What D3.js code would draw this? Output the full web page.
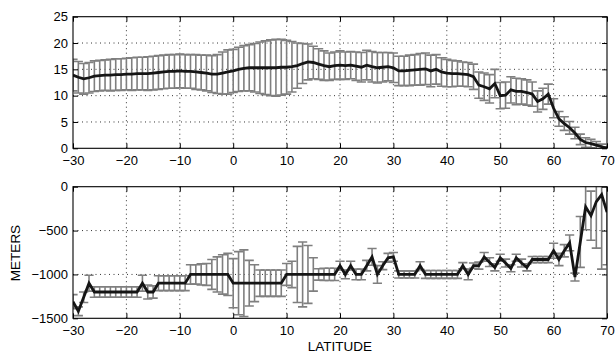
<!DOCTYPE html>
<html><head><meta charset="utf-8">
<script src="https://cdn.jsdelivr.net/npm/d3@7"></script>
<style>
body{margin:0;background:#fff}
text{font-family:"Liberation Sans",Arial,Helvetica,sans-serif}
</style></head>
<body><svg id="c" width="615" height="353"></svg>
<script>
const latitude = [-30,-29,-28,-27,-26,-25,-24,-23,-22,-21,-20,-19,-18,-17,-16,-15,-14,-13,-12,-11,
  -10,-9,-8,-7,-6,-5,-4,-3,-2,-1,0,1,2,3,4,5,6,7,8,9,10,11,12,13,14,15,16,17,18,19,
  20,21,22,23,24,25,26,27,28,29,30,31,32,33,34,35,36,37,38,39,40,41,42,43,44,45,46,47,48,49,
  50,51,52,53,54,55,56,57,58,59,60,61,62,63,64,65,66,67,68,69,70];

// top panel: mean and error half-width
const topMean = [13.9,13.5,13.2,13.4,13.7,13.8,13.9,13.9,14.0,14.0,14.1,14.1,14.2,14.2,14.2,14.3,14.4,14.5,14.6,14.6,
  14.7,14.6,14.6,14.5,14.4,14.3,14.1,14.1,14.3,14.5,14.7,15.0,15.2,15.3,15.3,15.3,15.3,15.3,15.3,15.4,
  15.4,15.5,15.7,16.1,16.4,16.3,16.0,15.7,15.5,15.7,15.8,15.7,15.8,15.6,15.4,15.8,15.5,15.3,15.4,15.5,
  15.3,14.7,14.7,14.8,14.9,15.0,15.1,14.7,15.0,14.5,14.3,14.2,14.2,14.1,14.0,13.6,12.0,11.7,11.3,12.3,
  10.0,10.1,11.1,10.8,10.8,10.6,10.3,8.9,9.4,10.3,7.6,5.6,4.7,3.9,2.9,1.7,1.1,0.9,0.6,0.3,0.0];
const topErr = [3.0,3.0,2.9,2.9,2.9,2.9,2.9,3.0,3.0,3.0,3.0,3.1,3.1,3.1,3.2,3.2,3.2,3.2,3.2,3.2,
  3.2,3.2,3.2,3.3,3.3,3.4,3.5,3.7,4.0,4.2,4.1,4.2,4.3,4.4,4.6,4.9,5.1,5.3,5.4,5.3,
  5.1,4.8,4.3,3.8,3.4,3.1,2.9,2.8,2.6,2.6,2.7,2.6,2.6,2.7,2.8,2.8,2.9,2.9,2.8,2.7,
  2.8,2.8,2.8,2.9,2.9,3.0,3.0,3.0,2.8,2.7,2.6,2.5,2.4,2.3,2.3,2.4,2.5,2.6,2.7,2.7,
  2.5,2.5,2.5,2.5,2.4,2.4,2.3,2.0,2.0,1.9,1.8,1.4,1.3,1.2,1.1,1.0,0.9,0.8,0.7,0.5,0.3];

// bottom panel: mean and error half-width (meters)
const bottomMean = [-1310,-1420,-1260,-1100,-1200,-1200,-1200,-1200,-1200,-1200,-1200,-1200,-1200,-1100,-1200,-1200,-1100,-1100,-1100,-1100,
  -1100,-1100,-1000,-1000,-1000,-1000,-1000,-1000,-1000,-1000,-1100,-1100,-1100,-1100,-1100,-1100,-1100,-1100,-1100,-1100,
  -1000,-1000,-1000,-1000,-1000,-1000,-1000,-1000,-1000,-1000,-900,-1000,-900,-1000,-1000,-900,-800,-1000,-900,-810,
  -800,-1000,-1000,-1000,-1000,-900,-1000,-1000,-1000,-1000,-1000,-1000,-1000,-900,-1000,-900,-900,-800,-860,-920,
  -810,-870,-930,-810,-870,-920,-830,-830,-830,-830,-730,-830,-730,-640,-1030,-630,-230,-330,-170,-90,-290];
const bottomErr = [80,50,60,90,60,60,60,60,60,60,60,60,60,90,80,70,85,85,85,85,
  85,85,110,110,120,125,170,200,225,240,280,360,380,260,210,150,150,150,150,150,
  125,150,320,370,330,190,65,70,70,70,50,50,50,60,60,60,95,100,45,50,
  50,40,40,40,40,45,45,45,45,45,45,45,45,35,60,30,40,50,50,40,
  40,45,40,40,45,40,35,35,35,35,85,70,70,90,45,290,260,280,530,850,600];

const xTicks = [-30,-20,-10,0,10,20,30,40,50,60,70];
const topYTicks = [0,5,10,15,20,25];
const bottomYTicks = [-1500,-1000,-500,0];

const svg = d3.select("#c");
const L = 73, R = 607;
const x = d3.scaleLinear().domain([-30,70]).range([L,R]);
const fmt = d3.format("d");

function panel(id, top, bottom, domain, yTicks, mean, err, xPad){
  const y = d3.scaleLinear().domain(domain).range([bottom, top]);
  const g = svg.append("g");
  g.append("clipPath").attr("id", id).append("rect")
    .attr("x", L).attr("y", top).attr("width", R-L).attr("height", bottom-top);
  g.selectAll(".gx").data(xTicks.slice(1,-1)).enter().append("line")
    .attr("x1", d=>x(d)).attr("x2", d=>x(d)).attr("y1", top).attr("y2", bottom)
    .attr("stroke","#000").attr("stroke-width",0.8).attr("stroke-dasharray","1,3.5");
  g.selectAll(".gy").data(yTicks.slice(1,-1)).enter().append("line")
    .attr("y1", d=>y(d)).attr("y2", d=>y(d)).attr("x1", L).attr("x2", R)
    .attr("stroke","#000").attr("stroke-width",0.8).attr("stroke-dasharray","1,3.5");
  const data = latitude.map((la,i)=>({la, m:mean[i], e:err[i]}));
  const cg = g.append("g").attr("clip-path", `url(#${id})`);
  const eb = cg.append("g").attr("stroke","#7f7f7f").attr("stroke-width",1.6).attr("fill","none");
  const cw = 4.6;
  eb.selectAll(".v").data(data).enter().append("line")
    .attr("x1", d=>x(d.la)).attr("x2", d=>x(d.la))
    .attr("y1", d=>y(d.m-d.e)).attr("y2", d=>y(d.m+d.e));
  eb.selectAll(".u").data(data).enter().append("line")
    .attr("x1", d=>x(d.la)-cw).attr("x2", d=>x(d.la)+cw)
    .attr("y1", d=>y(d.m+d.e)).attr("y2", d=>y(d.m+d.e));
  eb.selectAll(".l").data(data).enter().append("line")
    .attr("x1", d=>x(d.la)-cw).attr("x2", d=>x(d.la)+cw)
    .attr("y1", d=>y(d.m-d.e)).attr("y2", d=>y(d.m-d.e));
  cg.append("path").datum(data)
    .attr("d", d3.line().x(d=>x(d.la)).y(d=>y(d.m)))
    .attr("fill","none").attr("stroke","#151515").attr("stroke-width",2.8)
    .attr("stroke-linejoin","miter");
  const fs = "13px";
  g.append("g").attr("transform",`translate(0,${bottom})`)
    .call(d3.axisBottom(x).tickValues(xTicks).tickFormat(fmt).tickSize(-5).tickPadding(xPad).tickSizeOuter(0));
  g.append("g").attr("transform",`translate(0,${top})`)
    .call(d3.axisTop(x).tickValues(xTicks).tickSize(-5).tickFormat("").tickSizeOuter(0));
  g.append("g").attr("transform",`translate(${L},0)`)
    .call(d3.axisLeft(y).tickValues(yTicks).tickFormat(fmt).tickSize(-5).tickPadding(5).tickSizeOuter(0));
  g.append("g").attr("transform",`translate(${R},0)`)
    .call(d3.axisRight(y).tickValues(yTicks).tickSize(-5).tickFormat("").tickSizeOuter(0));
  g.selectAll(".domain").remove();
  g.selectAll(".tick line").attr("stroke","#000").attr("stroke-width",1);
  g.selectAll(".tick text").attr("fill","#000").style("font-size",fs)
    .style("font-family",'"Liberation Sans",Arial,sans-serif');
  g.append("rect").attr("x",L).attr("y",top).attr("width",R-L).attr("height",bottom-top)
    .attr("fill","none").attr("stroke","#000").attr("stroke-width",1.1);
  return g;
}

panel("clipTop", 16.7, 148.3, [0,25], topYTicks, topMean, topErr, 7);
panel("clipBot", 186.7, 318.3, [-1500,0], bottomYTicks, bottomMean, bottomErr, 7);

svg.append("text").attr("x",340).attr("y",351).attr("text-anchor","middle")
  .style("font-size","13.5px").text("LATITUDE");
svg.append("text").attr("transform","translate(20,253) rotate(-90)").attr("text-anchor","middle")
  .style("font-size","13.5px").text("METERS");
</script></body></html>
